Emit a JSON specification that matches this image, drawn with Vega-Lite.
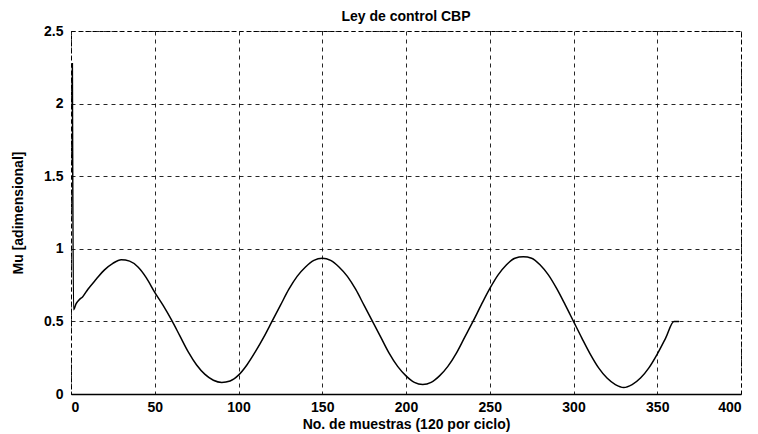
{
  "$schema": "https://vega.github.io/schema/vega-lite/v6.json",
  "width": 670,
  "height": 363,
  "autosize": {"type": "none"},
  "padding": {"left": 71, "top": 31, "right": 17, "bottom": 40},
  "background": "white",
  "title": {"text": "Ley de control CBP", "fontSize": 14, "font": "Liberation Sans", "fontWeight": "bold", "color": "black", "offset": 0},
  "config": {
    "view": {"stroke": "black", "strokeWidth": 1, "strokeDash": [4, 3]},
    "axis": {
      "labelFont": "Liberation Sans", "labelFontSize": 14, "labelFontWeight": "bold", "labelColor": "black",
      "titleFont": "Liberation Sans", "titleFontSize": 14, "titleFontWeight": "bold", "titleColor": "black",
      "grid": true, "gridColor": "black", "gridDash": [4, 4], "gridOpacity": 0.85, "gridWidth": 1,
      "ticks": false, "domainColor": "black"
    }
  },
  "data": {"values": [
    {"x": 0.8, "y": 2.28}, {"x": 1.5, "y": 0.58}, {"x": 3, "y": 0.62}, {"x": 5, "y": 0.65}, {"x": 7, "y": 0.67},
    {"x": 10, "y": 0.72}, {"x": 15, "y": 0.79}, {"x": 20, "y": 0.855}, {"x": 25, "y": 0.9}, {"x": 30, "y": 0.925},
    {"x": 35, "y": 0.915}, {"x": 40, "y": 0.875}, {"x": 45, "y": 0.8}, {"x": 50, "y": 0.7}, {"x": 55, "y": 0.61},
    {"x": 60, "y": 0.51}, {"x": 65, "y": 0.4}, {"x": 70, "y": 0.29}, {"x": 75, "y": 0.2}, {"x": 80, "y": 0.135},
    {"x": 85, "y": 0.095}, {"x": 90, "y": 0.08}, {"x": 95, "y": 0.09}, {"x": 100, "y": 0.13}, {"x": 105, "y": 0.2},
    {"x": 110, "y": 0.29}, {"x": 115, "y": 0.39}, {"x": 120, "y": 0.5},
    {"x": 125, "y": 0.61}, {"x": 130, "y": 0.72}, {"x": 135, "y": 0.81}, {"x": 140, "y": 0.875}, {"x": 145, "y": 0.92},
    {"x": 150, "y": 0.935}, {"x": 155, "y": 0.92}, {"x": 160, "y": 0.875}, {"x": 165, "y": 0.81}, {"x": 170, "y": 0.72},
    {"x": 175, "y": 0.61}, {"x": 180, "y": 0.5}, {"x": 185, "y": 0.39}, {"x": 190, "y": 0.28}, {"x": 195, "y": 0.19},
    {"x": 200, "y": 0.125}, {"x": 205, "y": 0.08}, {"x": 210, "y": 0.065}, {"x": 215, "y": 0.08}, {"x": 220, "y": 0.125},
    {"x": 225, "y": 0.19}, {"x": 230, "y": 0.28}, {"x": 235, "y": 0.39}, {"x": 240, "y": 0.5},
    {"x": 245, "y": 0.615}, {"x": 250, "y": 0.725}, {"x": 255, "y": 0.82}, {"x": 260, "y": 0.89}, {"x": 265, "y": 0.935},
    {"x": 270, "y": 0.945}, {"x": 275, "y": 0.935}, {"x": 280, "y": 0.89}, {"x": 285, "y": 0.82}, {"x": 290, "y": 0.725},
    {"x": 295, "y": 0.615}, {"x": 300, "y": 0.5}, {"x": 305, "y": 0.385}, {"x": 310, "y": 0.275}, {"x": 315, "y": 0.18},
    {"x": 320, "y": 0.11}, {"x": 325, "y": 0.065}, {"x": 330, "y": 0.045}, {"x": 335, "y": 0.065}, {"x": 340, "y": 0.11},
    {"x": 345, "y": 0.18}, {"x": 350, "y": 0.275}, {"x": 355, "y": 0.385}, {"x": 360, "y": 0.5}, {"x": 363, "y": 0.5}
  ]},
  "mark": {"type": "line", "color": "black", "strokeWidth": 1.5, "interpolate": "monotone"},
  "encoding": {
    "x": {"field": "x", "type": "quantitative", "scale": {"domain": [0, 400], "nice": false},
      "axis": {"values": [0, 50, 100, 150, 200, 250, 300, 350, 400], "format": "d", "title": "No. de muestras (120 por ciclo)", "labelPadding": 6, "titlePadding": 3, "domainWidth": 1.5}},
    "y": {"field": "y", "type": "quantitative", "scale": {"domain": [0, 2.5], "nice": false},
      "axis": {"values": [0, 0.5, 1, 1.5, 2, 2.5], "format": "~r", "title": "Mu [adimensional]", "labelPadding": 8, "titlePadding": 18, "domain": false}}
  }
}
